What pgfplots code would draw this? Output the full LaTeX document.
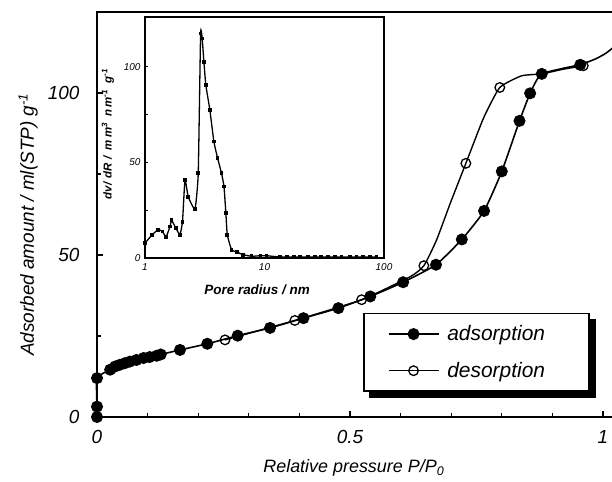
\documentclass[border=0pt]{standalone}
\usepackage{fontspec}
\setmainfont{Liberation Sans}
\usepackage{pgfplots}
\pgfplotsset{compat=1.18}
\pgfdeclarelayer{shadowlayer}
\pgfsetlayers{shadowlayer,main}
\begin{document}
\begin{tikzpicture}
\begin{axis}[
  at={(0bp,0bp)}, anchor=south west,
  scale only axis, width=526.24bp, height=405bp,
  xmin=0, xmax=1.04, ymin=0, ymax=125,
  clip=false,
  axis line style={line width=1.8bp},
  xtick={0,0.5,1}, xticklabels={0,0.5,1},
  minor xtick={0.1,0.2,0.3,0.4,0.6,0.7,0.8,0.9},
  ytick={0,50,100}, yticklabels={0,50,100},
  minor ytick={25,75},
  tick align=inside, tick pos=left,
  major tick length=6bp, minor tick length=4bp,
  every tick/.style={line width=1.2bp, black},
  /pgf/number format/assume math mode=true,
  ticklabel style={font=\itshape\fontsize{19}{19}\selectfont},
  xticklabel style={yshift=-10bp},
  yticklabel style={xshift=-14bp},
  xlabel={Relative pressure P/P\textsubscript{0}},
  ylabel={Adsorbed amount / ml(STP) g\textsuperscript{-1}},
  xlabel style={font=\itshape\fontsize{18}{18}\selectfont, at={(axis description cs:0.488,-0.126)}, anchor=center},
  ylabel style={font=\itshape\fontsize{19}{19}\selectfont, at={(axis description cs:-0.131,0.475)}, anchor=center},
  legend image code/.code={
    \draw[#1, mark=none] (0bp,0bp) -- (50bp,0bp);
    \path[#1, draw=none, mark indices={1}] plot coordinates {(25bp,0bp)};},
  legend style={name=leg, at={(axis description cs:0.5055,0.2568)}, anchor=north west,
    draw=black, line width=1.5bp, fill=white,
    font=\itshape\fontsize{21}{21}\selectfont,
    inner xsep=24bp, inner ysep=10bp, row sep=16bp,
    nodes={inner xsep=0bp, inner ysep=2bp},
    column sep=8bp,
    cells={anchor=west}},
]
\addplot[black, line width=1.6bp, smooth, tension=0.3, mark=*, mark size=5.5bp, mark options={solid, fill=black, line width=1bp}]
coordinates {
(0,0) (0,3.2) (0,12.0) (0.026,14.6) (0.036,15.6) (0.045,16.1) (0.055,16.6) (0.065,17.1)
(0.078,17.6) (0.092,18.2) (0.104,18.5) (0.118,18.9) (0.126,19.3) (0.164,20.7) (0.218,22.6)
(0.278,25.1) (0.342,27.5) (0.408,30.5) (0.477,33.6) (0.540,37.2) (0.605,41.6) (0.670,47.0)
(0.721,54.8) (0.765,63.6) (0.800,75.8) (0.835,91.4) (0.856,99.9) (0.879,105.9) (0.955,108.7)
};
\addlegendentry{adsorption\hspace*{20bp}}
\addplot[black, line width=1.4bp, smooth, tension=0.3, mark=o, mark size=4.8bp,
  mark indices={1,5,7,10,12,13,14}, mark options={solid, line width=1.3bp}]
coordinates {
(0.961,108.4) (0.92,107.3) (0.879,105.9) (0.839,105.3) (0.796,101.7) (0.764,92.3)
(0.729,78.3) (0.698,65.9) (0.671,54.6) (0.646,46.7) (0.619,43.3) (0.523,36.2)
(0.391,29.8) (0.253,23.8)
};
\addlegendentry{desorption\hspace*{20bp}}
\addplot[black, line width=1.6bp, smooth, tension=0.4, forget plot]
coordinates {(0.955,108.7) (0.985,110.5) (1.005,112.2) (1.02,114.0) (1.04,116.5)};
\end{axis}
\begin{pgfonlayer}{shadowlayer}
\fill[black] ([xshift=6bp,yshift=-6bp]leg.south west) rectangle ([xshift=6bp,yshift=-6bp]leg.north east);
\end{pgfonlayer}

\begin{axis}[
  at={(48bp,159bp)}, anchor=south west,
  scale only axis, width=239bp, height=241bp,
  xmode=log, xmin=1, xmax=100, ymin=0, ymax=126,
  axis background/.style={fill=white},
  axis line style={line width=1.2bp},
  xtick={1,10,100}, xticklabels={1,10,100}, minor xtick={},
  xtick style={draw=none},
  ytick={0,50,100}, yticklabels={0,50,100}, minor ytick={25,75},
  ytick pos=left, tick align=inside,
  major tick length=3bp, minor tick length=3bp,
  ytick style={line width=0.8bp, black},
  /pgf/number format/assume math mode=true,
  ticklabel style={font=\itshape\fontsize{10}{10}\selectfont},
  xticklabel style={yshift=-2bp},
  yticklabel style={xshift=-1bp},
  xlabel={\bfseries\itshape Pore radius / nm},
  ylabel={\bfseries\itshape dv/\,\,dR\,\,/\ \ m\,m\textsuperscript{3}\ \ n\,m\textsuperscript{-1}\ \ g\textsuperscript{-1}},
  xlabel style={font=\fontsize{13.5}{13.5}\selectfont, at={(axis description cs:0.469,-0.133)}, anchor=center},
  ylabel style={font=\fontsize{11.5}{11.5}\selectfont, at={(axis description cs:-0.155,0.515)}, anchor=center},
]
\addplot[black, line width=1.3bp, smooth, tension=0.25, mark=square*, mark size=1.2bp, mark options={solid}]
coordinates {
(1.0,7.8) (1.15,12.2) (1.29,14.8) (1.40,13.9) (1.50,11.0) (1.62,16.5) (1.67,19.7)
(1.81,15.7) (1.96,12.2) (2.06,19.0) (2.16,40.9) (2.30,32.0) (2.62,25.6) (2.79,44.3)
(2.92,117.4) (3.01,114.8) (3.11,102.6) (3.23,90.4) (3.49,77.4) (3.77,60.9) (4.05,52.2)
(4.37,44.3) (4.58,37.4) (4.75,23.5) (4.88,12.2) (5.30,4.3) (5.90,3.1) (6.62,1.7) (7.8,0.9)
(9.25,1.2) (10.4,1.2) (13.4,0.5) (15.5,0.5) (17.6,0.5) (19.7,0.5) (23.2,0.5) (26.4,0.5)
(29.9,0.5) (34.0,0.5) (38.7,0.5) (44.0,0.5) (51.6,0.5) (58.7,0.5) (66.8,0.5) (75.9,0.5) (86.3,0.5)
};
\end{axis}
\pgfresetboundingbox
\useasboundingbox (-97bp,-65bp) rectangle (515bp,417bp);
\end{tikzpicture}
\end{document}
